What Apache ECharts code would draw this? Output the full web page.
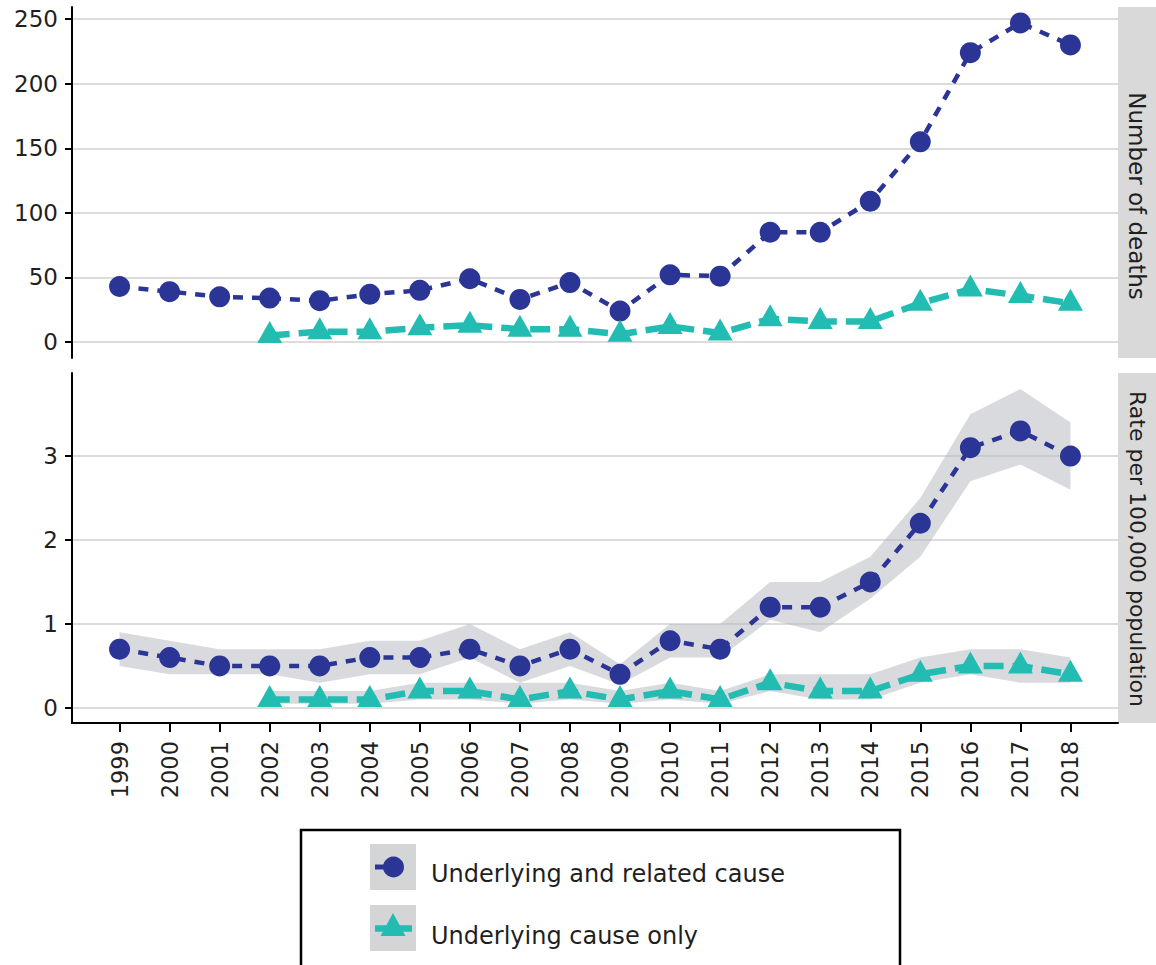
<!DOCTYPE html>
<html>
<head>
<meta charset="utf-8">
<script src="https://cdn.jsdelivr.net/npm/echarts@6/dist/echarts.min.js"></script>
<style>
html,body{margin:0;padding:0;background:#fff;}
#chart{width:1156px;height:965px;}
</style>
</head>
<body>
<div id="chart"></div>
<script>
// ---- data ----
const years = [1999,2000,2001,2002,2003,2004,2005,2006,2007,2008,2009,2010,2011,2012,2013,2014,2015,2016,2017,2018];
const deathsRelated   = [43,39,35,34,32,37,40,49,33,46,24,52,51,85,85,109,155,224,247,230];
const deathsUnderlying= [null,null,null,5,8,8,11,13,10,10,6,12,7,18,16,16,30,41,36,30];
const rateRelated     = [0.7,0.6,0.5,0.5,0.5,0.6,0.6,0.7,0.5,0.7,0.4,0.8,0.7,1.2,1.2,1.5,2.2,3.1,3.3,3.0];
const rateRelatedLow  = [0.5,0.4,0.4,0.4,0.3,0.4,0.4,0.6,0.3,0.5,0.28,0.6,0.6,1.05,0.9,1.3,1.8,2.7,2.9,2.6];
const rateRelatedHigh = [0.9,0.8,0.7,0.7,0.7,0.8,0.8,1.0,0.7,0.9,0.52,1.0,1.0,1.5,1.5,1.8,2.5,3.5,3.8,3.4];
const rateUnderlying     = [null,null,null,0.1,0.1,0.1,0.2,0.2,0.1,0.2,0.1,0.2,0.1,0.3,0.2,0.2,0.4,0.5,0.5,0.4];
const rateUnderlyingLow  = [null,null,null,0.05,0.05,0.05,0.1,0.1,0.05,0.1,0.05,0.1,0.05,0.2,0.1,0.1,0.3,0.4,0.3,0.3];
const rateUnderlyingHigh = [null,null,null,0.2,0.2,0.2,0.3,0.3,0.3,0.3,0.2,0.3,0.2,0.4,0.4,0.4,0.6,0.7,0.7,0.6];
const countTicks = [0,50,100,150,200,250];
const rateTicks  = [0,1,2,3];
const seriesNames = ['Underlying and related cause','Underlying cause only'];
const stripLabels = ['Number of deaths','Rate per 100,000 population'];

// ---- style ----
const BLUE = '#2B3595';
const TEAL = '#22BCB2';
const FONT = '"DejaVu Sans", sans-serif';
const TXT = '#1f1f1f';

function pairs(vals){
  const out=[];
  years.forEach((y,i)=>{ if(vals[i]!=null) out.push([y, vals[i]]); });
  return out;
}
function band(xi, yi, low, high){
  const data=[];
  years.forEach((y,i)=>{ if(low[i]!=null) data.push([y, low[i], high[i]]); });
  return {
    type:'custom', xAxisIndex:xi, yAxisIndex:yi, silent:true, z:1, clip:true,
    data, encode:{x:0, y:[1,2]},
    renderItem:(params, api)=>{
      if(params.dataIndex!==0) return null;
      const top=[], bot=[];
      for(let i=0;i<data.length;i++){
        top.push(api.coord([data[i][0], data[i][2]]));
        bot.push(api.coord([data[i][0], data[i][1]]));
      }
      return {type:'polygon', shape:{points: top.concat(bot.reverse())},
              style:{fill:'rgba(180,182,187,0.5)'}};
    }
  };
}
function lineSeries(name, xi, yi, vals, isTri){
  return {
    name, type:'line', xAxisIndex:xi, yAxisIndex:yi, z:3,
    data: pairs(vals),
    symbol: isTri ? 'triangle' : 'circle',
    symbolSize: isTri ? [25,22] : 21,
    symbolOffset: isTri ? [0,-3.5] : [0,0],
    showSymbol:true,
    lineStyle:{color: isTri?TEAL:BLUE, width: isTri?6.5:4.5, type: isTri?[20,9]:[10,9]},
    itemStyle:{color: isTri?TEAL:BLUE},
    animation:false
  };
}
const xBase = {type:'value', min:1998.05, max:2018.95};
function yAxis(gi, min, max, ticks){
  return {
    type:'value', gridIndex:gi, min, max,
    axisLine:{show:true, onZero:false, lineStyle:{color:'#000', width:2}},
    axisTick:{show:true, customValues:ticks, length:7, lineStyle:{color:'#000', width:2}},
    axisLabel:{customValues:ticks, margin:14, fontSize:23, fontFamily:FONT, color:TXT},
    splitLine:{show:true, lineStyle:{color:'#D0D0D0', width:1.5}}
  };
}

const chart = echarts.init(document.getElementById('chart'), null, {renderer:'svg'});
chart.setOption({
  animation:false,
  backgroundColor:'#fff',
  grid:[
    {left:72, right:38, top:7, height:351},
    {left:72, right:38, top:373, height:350}
  ],
  xAxis:[
    Object.assign({gridIndex:0, axisLine:{show:false}, axisTick:{show:false}, axisLabel:{show:false}, splitLine:{show:false}}, xBase),
    Object.assign({gridIndex:1,
      axisLine:{show:true, onZero:false, lineStyle:{color:'#000', width:2}},
      axisTick:{show:true, customValues:years, length:9, lineStyle:{color:'#000', width:2}},
      axisLabel:{customValues:years, rotate:90, margin:18, fontSize:22.5, fontFamily:FONT, color:TXT, formatter:v=>String(v)},
      splitLine:{show:false}}, xBase)
  ],
  yAxis:[
    yAxis(0, -12.35, 259.35, countTicks),
    yAxis(1, -0.18, 3.99, rateTicks)
  ],
  series:[
    band(1,1,rateRelatedLow,rateRelatedHigh),
    band(1,1,rateUnderlyingLow,rateUnderlyingHigh),
    lineSeries(seriesNames[0],0,0,deathsRelated,false),
    lineSeries(seriesNames[1],0,0,deathsUnderlying,true),
    lineSeries(seriesNames[0],1,1,rateRelated,false),
    lineSeries(seriesNames[1],1,1,rateUnderlying,true)
  ],
  graphic:[
    {type:'rect', x:1118, y:7, shape:{width:40, height:351}, style:{fill:'#D9D9D9'}, silent:true},
    {type:'rect', x:1118, y:373, shape:{width:40, height:350}, style:{fill:'#D9D9D9'}, silent:true},
    {type:'text', x:1137, y:196, rotation:-Math.PI/2,
      style:{text:stripLabels[0], font:'23px '+FONT, fill:TXT, align:'center', verticalAlign:'middle'}},
    {type:'text', x:1137, y:549, rotation:-Math.PI/2,
      style:{text:stripLabels[1], font:'22px '+FONT, fill:TXT, align:'center', verticalAlign:'middle'}},
    // legend
    {type:'rect', x:301, y:830, shape:{width:599, height:170}, style:{fill:'#fff', stroke:'#000', lineWidth:2.5}},
    {type:'rect', x:370, y:844, shape:{width:46, height:46}, style:{fill:'#D4D5D7'}},
    {type:'rect', x:370, y:905, shape:{width:46, height:46}, style:{fill:'#D4D5D7'}},
    {type:'line', shape:{x1:375, y1:867, x2:392, y2:867}, style:{stroke:BLUE, lineWidth:5}},
    {type:'circle', shape:{cx:393.5, cy:867, r:10.5}, style:{fill:BLUE}},
    {type:'line', shape:{x1:375, y1:928.5, x2:412, y2:928.5}, style:{stroke:TEAL, lineWidth:6.5}},
    {type:'polygon', shape:{points:[[393,913],[380.5,936],[405.5,936]]}, style:{fill:TEAL}},
    {type:'text', x:431, y:874, style:{text:seriesNames[0], font:'24px '+FONT, fill:TXT, align:'left', verticalAlign:'middle'}},
    {type:'text', x:431, y:936, style:{text:seriesNames[1], font:'24px '+FONT, fill:TXT, align:'left', verticalAlign:'middle'}}
  ]
});
</script>
</body>
</html>
